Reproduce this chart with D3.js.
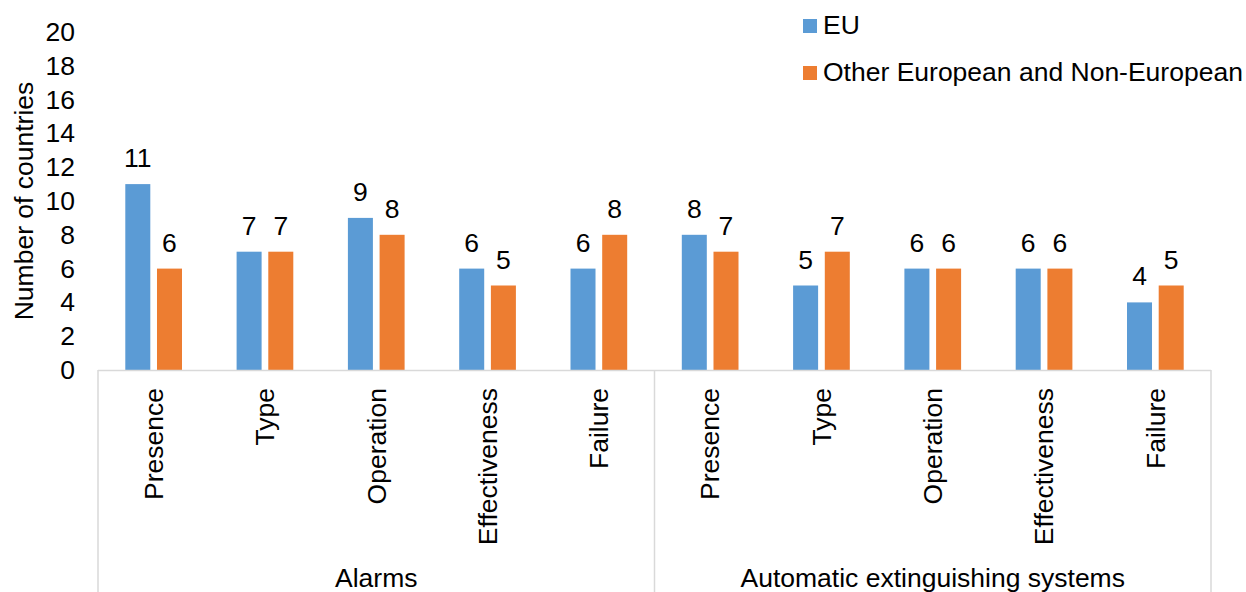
<!DOCTYPE html>
<html>
<head>
<meta charset="utf-8">
<script src="https://cdn.jsdelivr.net/npm/d3@7"></script>
<style>
  html, body { margin: 0; padding: 0; background: #ffffff; }
  svg { display: block; }
  text { font-family: "Liberation Sans", Arial, sans-serif; fill: #000; }
</style>
</head>
<body>
<svg id="chart" width="1246" height="592"></svg>
<script>
const categories = ["Presence", "Type", "Operation", "Effectiveness", "Failure",
                    "Presence", "Type", "Operation", "Effectiveness", "Failure"];
const groups = ["Alarms", "Automatic extinguishing systems"];
const groupSizes = [5, 5];
const seriesNames = ["EU", "Other European and Non-European"];
const euValues = [11, 7, 9, 6, 6, 8, 5, 6, 6, 4];
const otherValues = [6, 7, 8, 5, 8, 7, 7, 6, 6, 5];
const yTicks = [0, 2, 4, 6, 8, 10, 12, 14, 16, 18, 20];
const yTitle = "Number of countries";

(function () {
const colors = ["#5B9BD5", "#ED7D31"];
const axisColor = "#D9D9D9";
const fontSize = 26.5;

const svg = d3.select("#chart");
const pLeft = 98, pRight = 1211, pTop = 32, pBottom = 370, H = 592;

const x = d3.scaleBand().domain(d3.range(categories.length)).range([pLeft, pRight]).padding(0);
const innerPad = 27.3;
const xs = d3.scaleBand().domain([0, 1]).range([innerPad, x.bandwidth() - innerPad]).paddingInner(0.211).paddingOuter(0);
const y = d3.scaleLinear().domain([0, 20]).range([pBottom, pTop]);

const series = [euValues, otherValues];

// bars
series.forEach((vals, si) => {
  svg.append("g").selectAll("rect").data(vals).join("rect")
    .attr("x", (d, i) => x(i) + xs(si))
    .attr("width", xs.bandwidth())
    .attr("y", d => y(d))
    .attr("height", d => y(0) - y(d))
    .attr("fill", colors[si]);
  svg.append("g").selectAll("text").data(vals).join("text")
    .attr("x", (d, i) => x(i) + xs(si) + xs.bandwidth() / 2)
    .attr("y", d => y(d) - 17)
    .attr("text-anchor", "middle")
    .attr("font-size", fontSize)
    .text(d => d);
});

// y axis
const yAxis = d3.axisLeft(y).tickValues(yTicks).tickSize(0).tickPadding(0);
const yg = svg.append("g").attr("transform", `translate(75,0)`).call(yAxis);
yg.select(".domain").remove();
yg.selectAll("text").attr("font-size", fontSize).attr("font-family", "Liberation Sans, Arial, sans-serif").attr("fill", "#000");

svg.append("text")
  .attr("transform", `translate(33,${(y(0) + y(20)) / 2}) rotate(-90)`)
  .attr("text-anchor", "middle")
  .attr("font-size", fontSize)
  .text(yTitle);

// category axis
const xAxis = d3.axisBottom(x).tickSize(0).tickFormat(i => categories[i]);
const xg = svg.append("g").attr("transform", `translate(0,${pBottom})`).call(xAxis);
xg.select(".domain").remove();
xg.selectAll(".tick text")
  .attr("font-size", fontSize)
  .attr("font-family", "Liberation Sans, Arial, sans-serif")
  .attr("fill", "#000")
  .attr("text-anchor", "end")
  .attr("transform", "rotate(-90)")
  .attr("x", -18)
  .attr("y", 0)
  .attr("dy", "0.35em");

// axis lines
svg.append("line").attr("x1", pLeft).attr("x2", pRight).attr("y1", pBottom + 0.5).attr("y2", pBottom + 0.5)
  .attr("stroke", axisColor).attr("stroke-width", 1.5);
let idx = 0;
const bounds = [0];
groupSizes.forEach(n => { idx += n; bounds.push(idx); });
bounds.forEach(b => {
  const xx = b < categories.length ? x(b) : pRight;
  svg.append("line").attr("x1", xx).attr("x2", xx).attr("y1", pBottom).attr("y2", H)
    .attr("stroke", axisColor).attr("stroke-width", 1.5);
});
groups.forEach((g, gi) => {
  const x0 = x(bounds[gi]);
  const x1 = bounds[gi + 1] < categories.length ? x(bounds[gi + 1]) : pRight;
  svg.append("text").attr("x", (x0 + x1) / 2).attr("y", 587)
    .attr("text-anchor", "middle").attr("font-size", fontSize).text(g);
});

// legend
const legend = svg.append("g");
seriesNames.forEach((s, i) => {
  const ly = 19 + i * 47;
  legend.append("rect").attr("x", 803).attr("y", ly).attr("width", 14).attr("height", 14).attr("fill", colors[i]);
  legend.append("text").attr("x", 823).attr("y", ly + 14.5).attr("font-size", fontSize).text(s);
});
})();
</script>
</body>
</html>
